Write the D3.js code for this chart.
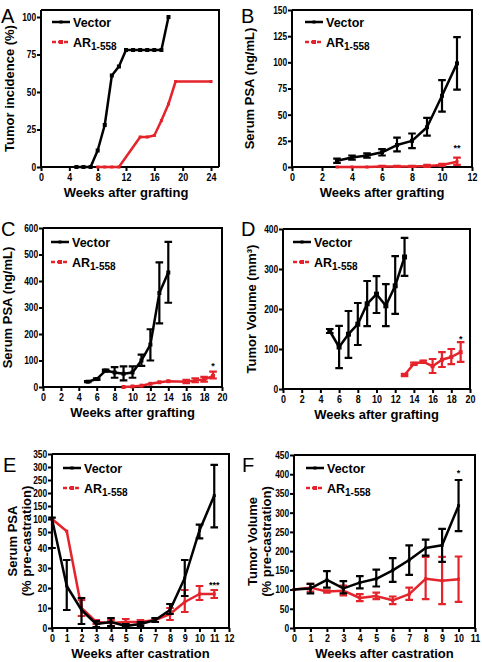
<!DOCTYPE html>
<html><head><meta charset="utf-8">
<script src="https://cdn.jsdelivr.net/npm/d3@7"></script>
<style>
body{margin:0;background:#fff;}
svg{display:block;}
.tick text{font-family:'Liberation Sans',Arial,sans-serif;font-weight:bold;font-size:10.5px;fill:#000;}
.ttl{font-family:'Liberation Sans',Arial,sans-serif;font-weight:bold;font-size:13px;fill:#000;}
.leg{font-family:'Liberation Sans',Arial,sans-serif;font-weight:bold;font-size:12.5px;fill:#000;}
.lbl{font-family:'Liberation Sans',Arial,sans-serif;font-size:20px;fill:#000;}
.ast{font-family:'Liberation Sans',Arial,sans-serif;font-weight:bold;font-size:9px;fill:#000;}
</style></head>
<body>
<svg id="c" width="482" height="662"></svg>
<script>
// ---------- DATA ----------
// Panel A: tumor incidence (%)
const aVecWeeks = [5,6,7,8,9,10,11,12,13,14,15,16,17,18];
const aVecVals  = [0,0,0,11,28,61,67,78,78,78,78,78,78,100];
const aArWeeks  = [8,9,10,11,14,15,16,17,18,19,24];
const aArVals   = [0,0,0,0,20,20,21,31,42,57,57];
const aXTicks = [0,4,8,12,16,20,24];
const aYTicks = [0,25,50,75,100];

// Panel B: serum PSA (ng/mL)
const bVecWeeks = [3,4,5,6,7,8,9,10,11];
const bVecVals  = [6,9,11,14,21,25,38,68,99];
const bVecLo    = [4,7,9,11,15,18,30,53,74];
const bVecHi    = [8,11,13,17,28,32,47,83,124];
const bArWeeks  = [3,4,5,6,7,8,9,10,11];
const bArVals   = [0,0,0,0.5,0.5,0.5,1,2,5];
const bArLo     = [0,0,0,0,0,0,0,1,2];
const bArHi     = [0,0,0,1,1,1,2,3,9];
const bXTicks = [0,2,4,6,8,10,12];
const bYTicks = [0,25,50,75,100,125,150];

// Panel C: serum PSA (ng/mL)
const cVecWeeks = [5,6,7,8,9,10,11,12,13,14];
const cVecVals  = [20,30,62,55,50,55,100,160,355,432];
const cVecLo    = [18,27,58,35,25,35,80,100,240,318];
const cVecHi    = [22,33,66,75,78,78,122,218,470,548];
const cArWeeks  = [9,10,11,12,13,14,16,17,18,19];
const cArVals   = [0,2,5,12,18,22,20,25,28,42];
const cArLo     = [0,2,5,12,18,22,15,18,20,32];
const cArHi     = [0,2,5,12,18,22,27,33,38,58];
const cXTicks = [0,2,4,6,8,10,12,14,16,18,20];
const cYTicks = [0,100,200,300,400,500,600];

// Panel D: tumor volume (mm3)
const dVecWeeks = [5,6,7,8,9,10,11,12,13];
const dVecVals  = [145,105,137,162,213,237,208,258,330];
const dVecLo    = [140,52,78,110,157,190,157,188,283];
const dVecHi    = [150,158,195,215,270,282,262,332,378];
const dArWeeks  = [13,14,15,16,17,18,19];
const dArVals   = [35,63,68,57,73,80,92];
const dArLo     = [32,60,65,40,55,62,68];
const dArHi     = [38,66,71,75,92,100,117];
const dXTicks = [0,2,4,6,8,10,12,14,16,18,20];
const dYTicks = [0,100,200,300,400];

// Panel E: serum PSA (% pre-castration)
const eVecWeeks = [0,1,2,3,4,5,6,7,8,9,10,11];
const eVecVals  = [100,21,9,2,3,1,2,4,9,25,56,190];
const eVecLo    = [40,9,2,0.5,1,0.5,1,3,7,16,46,68];
const eVecHi    = [105,34,15,3.5,5,2,3,5,12,34,78,308];
const eArWeeks  = [0,1,2,3,4,5,6,7,8,9,10,11];
const eArVals   = [100,53,10,3,2.5,3,3,4,7,13,17,17];
const eArLo     = [100,53,6,2,1,2,2,3,4,8,14,15];
const eArHi     = [100,53,14,4,4,4.5,4,5,10,19,21,19];
const eXTicks = [0,1,2,3,4,5,6,7,8,9,10,11,12];
const eYTicks = [0,10,20,30,40,50,100,150,200,250,300,350];

// Panel F: tumor volume (% pre-castration)
const fVecWeeks = [0,1,2,3,4,5,6,7,8,9,10];
const fVecVals  = [100,103,125,103,118,128,150,177,208,215,318];
const fVecLo    = [100,90,105,90,103,108,120,138,188,172,252];
const fVecHi    = [100,115,148,122,135,152,182,215,230,258,385];
const fArWeeks  = [0,1,2,3,4,5,6,7,8,9,10];
const fArVals   = [100,105,95,97,78,83,72,88,128,123,127];
const fArLo     = [100,95,92,85,70,75,62,73,75,62,68];
const fArHi     = [100,115,98,110,88,92,82,105,185,185,186];
const fXTicks = [0,1,2,3,4,5,6,7,8,9,10,11];
const fYTicks = [0,50,100,150,200,250,300,350,400,450];

// ---------- DRAW ----------
const RED = "#e4232b";
const svg = d3.select("#c");

function pts(w,v,lo,hi){return w.map((d,i)=>({x:d,y:v[i],lo:lo?lo[i]:null,hi:hi?hi[i]:null}));}

function panel(o){
  const g = svg.append("g");
  const x = d3.scaleLinear().domain(o.xd).range([o.l,o.xr]);
  const y = d3.scaleLinear().domain(o.yd).range(o.yr);
  g.append("path").attr("d",`M${o.l},${o.top}H${o.r}V${o.bot}`)
    .attr("fill","none").attr("stroke","#000").attr("stroke-width",2);
  const ax = g.append("g").attr("transform",`translate(0,${o.bot})`)
    .call(d3.axisBottom(x).tickValues(o.xt).tickSize(4).tickSizeOuter(0).tickPadding(3));
  const ay = g.append("g").attr("transform",`translate(${o.l},0)`)
    .call(d3.axisLeft(y).tickValues(o.yt).tickSize(4).tickSizeOuter(0).tickPadding(2));
  [ax,ay].forEach(a=>{a.select(".domain").attr("stroke-width",2);a.selectAll(".tick line").attr("stroke-width",2);});
  ay.select(".domain").attr("d",`M0,${o.bot+1}V${o.top}`);
  ax.select(".domain").attr("d",`M${o.l-1},0H${o.r}`);
  // condensed look for tick labels (scaled within each tick's own frame)
  ay.selectAll(".tick text").attr("transform","scale(0.8,1)");
  ax.selectAll(".tick text").attr("transform","scale(0.85,1)");
  // series
  o.series.forEach(s=>{
    const line = d3.line().x(d=>x(d.x)).y(d=>y(d.y));
    g.append("path").datum(s.data).attr("d",line).attr("fill","none")
      .attr("stroke",s.color).attr("stroke-width",2.5).attr("stroke-linejoin","round");
    const eb = s.data.filter(d=>d.lo!=null && d.hi-d.lo>0.001);
    const cw = 3.8;
    g.selectAll(null).data(eb).enter().append("path")
      .attr("d",d=>`M${x(d.x)},${y(d.lo)}V${y(d.hi)}M${x(d.x)-cw},${y(d.lo)}H${x(d.x)+cw}M${x(d.x)-cw},${y(d.hi)}H${x(d.x)+cw}`)
      .attr("fill","none").attr("stroke",s.color).attr("stroke-width",2.2);
    g.selectAll(null).data(s.data).enter().append("rect")
      .attr("x",d=>x(d.x)-s.ms/2).attr("y",d=>y(d.y)-s.ms/2)
      .attr("width",s.ms).attr("height",s.ms).attr("fill",s.color);
  });
  if(o.ast){ g.append("text").attr("class","ast").attr("text-anchor","middle")
      .attr("x",x(o.ast.x)).attr("y",o.ast.y).text(o.ast.t); }
  // legend
  const L = o.leg;
  g.append("line").attr("x1",L.x).attr("x2",L.x+18).attr("y1",L.y).attr("y2",L.y)
    .attr("stroke","#000").attr("stroke-width",2.5);
  g.append("rect").attr("x",L.x+7.5).attr("y",L.y-1.5).attr("width",3).attr("height",3).attr("fill","#000");
  g.append("text").attr("class","leg").attr("x",L.x+21).attr("y",L.y+4.5).text("Vector");
  g.append("line").attr("x1",L.x).attr("x2",L.x+18).attr("y1",L.y+20).attr("y2",L.y+20)
    .attr("stroke",RED).attr("stroke-width",2.5).attr("stroke-dasharray","4,2");
  g.append("rect").attr("x",L.x+7).attr("y",L.y+18).attr("width",4).attr("height",4).attr("fill",RED);
  const t = g.append("text").attr("class","leg").attr("x",L.x+21).attr("y",L.y+24.5);
  t.append("tspan").text("AR");
  t.append("tspan").attr("dy",3).style("font-size","10px").text("1-558");
  // titles
  g.append("text").attr("class","ttl").attr("text-anchor","middle")
    .attr("x",(o.l+o.xr)/2).attr("y",o.bot+30).text(o.xtitle);
  o.ytitle.forEach((tt,i)=>{
    g.append("text").attr("class","ttl").attr("text-anchor","middle")
      .attr("transform",`translate(${o.ytx+i*14},${(o.top+o.bot)/2}) rotate(-90)`).text(tt);
  });
  g.append("text").attr("class","lbl").attr("x",o.lx).attr("y",o.ly).text(o.letter);
}

panel({letter:"A",lx:1,ly:23,l:41,xr:211,r:219,top:10,bot:167,xd:[0,24],yd:[0,100],yr:[167,17],
  xt:aXTicks,yt:aYTicks,xtitle:"Weeks after grafting",ytitle:["Tumor incidence (%)"],ytx:14,
  leg:{x:52,y:22},
  series:[{data:pts(aArWeeks,aArVals),color:RED,ms:3},{data:pts(aVecWeeks,aVecVals),color:"#000",ms:4}]});

panel({letter:"B",lx:241,ly:23,l:292,xr:472,r:472,top:10,bot:167,xd:[0,12],yd:[0,150],yr:[167,10],
  xt:bXTicks,yt:bYTicks,xtitle:"Weeks after grafting",ytitle:["Serum PSA (ng/mL)"],ytx:254,
  leg:{x:305,y:22},ast:{x:11,y:151,t:"**"},
  series:[{data:pts(bArWeeks,bArVals,bArLo,bArHi),color:RED,ms:3},{data:pts(bVecWeeks,bVecVals,bVecLo,bVecHi),color:"#000",ms:4}]});

panel({letter:"C",lx:1,ly:236,l:43,xr:222,r:222,top:228,bot:387,xd:[0,20],yd:[0,600],yr:[387,228],
  xt:cXTicks,yt:cYTicks,xtitle:"Weeks after grafting",ytitle:["Serum PSA (ng/mL)"],ytx:12,
  leg:{x:51,y:242},ast:{x:19,y:369,t:"*"},
  series:[{data:pts(cArWeeks,cArVals,cArLo,cArHi),color:RED,ms:4},{data:pts(cVecWeeks,cVecVals,cVecLo,cVecHi),color:"#000",ms:4}]});

panel({letter:"D",lx:241,ly:236,l:283,xr:470,r:470,top:229,bot:389,xd:[0,20],yd:[0,400],yr:[389,229],
  xt:dXTicks,yt:dYTicks,xtitle:"Weeks after grafting",ytitle:["Tumor Volume (mm\u00b3)"],ytx:256,
  leg:{x:293,y:242},ast:{x:19,y:342,t:"*"},
  series:[{data:pts(dVecWeeks,dVecVals,dVecLo,dVecHi),color:"#000",ms:5},{data:pts(dArWeeks,dArVals,dArLo,dArHi),color:RED,ms:4}]});

panel({letter:"E",lx:3,ly:472,l:52,xr:229,r:229,top:454,bot:628,xd:[0,12],yd:[0,40,50,350],yr:[628,548,532,454],
  xt:eXTicks,yt:eYTicks,xtitle:"Weeks after castration",ytitle:["Serum PSA","(% pre-castration)"],ytx:17,
  leg:{x:63,y:468},ast:{x:11,y:588,t:"***"},
  series:[{data:pts(eArWeeks,eArVals,eArLo,eArHi),color:RED,ms:3},{data:pts(eVecWeeks,eVecVals,eVecLo,eVecHi),color:"#000",ms:3}]});

panel({letter:"F",lx:242,ly:472,l:294,xr:475,r:475,top:455,bot:628,xd:[0,11],yd:[0,450],yr:[628,455],
  xt:fXTicks,yt:fYTicks,xtitle:"Weeks after castration",ytitle:["Tumor Volume","(% pre-castration)"],ytx:257,
  leg:{x:306,y:468},ast:{x:10,y:476,t:"*"},
  series:[{data:pts(fArWeeks,fArVals,fArLo,fArHi),color:RED,ms:3},{data:pts(fVecWeeks,fVecVals,fVecLo,fVecHi),color:"#000",ms:3}]});
</script>
</body></html>
